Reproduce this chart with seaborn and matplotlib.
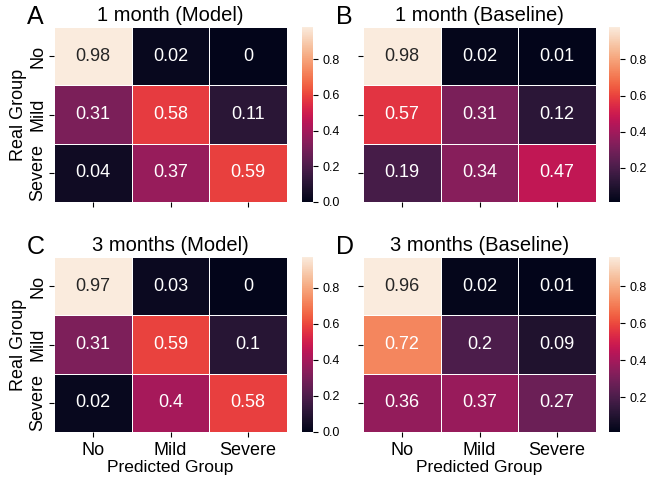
import numpy as np
import pandas as pd
import seaborn as sns
import matplotlib.pyplot as plt

groups = ['No', 'Mild', 'Severe']

m1_model = [[0.98, 0.02, 0.0],
            [0.31, 0.58, 0.11],
            [0.04, 0.37, 0.59]]
m1_base = [[0.98, 0.02, 0.01],
           [0.57, 0.31, 0.12],
           [0.19, 0.34, 0.47]]
m3_model = [[0.97, 0.03, 0.0],
            [0.31, 0.59, 0.1],
            [0.02, 0.4, 0.58]]
m3_base = [[0.96, 0.02, 0.01],
           [0.72, 0.2, 0.09],
           [0.36, 0.37, 0.27]]

titles = ['1 month (Model)', '1 month (Baseline)', '3 months (Model)', '3 months (Baseline)']
letters = ['A', 'B', 'C', 'D']
mats = [m1_model, m1_base, m3_model, m3_base]

plt.rcParams['font.family'] = ['Liberation Sans', 'DejaVu Sans']

fig = plt.figure(figsize=(6.6, 4.8), dpi=100)

# positions in pixels -> figure fraction
W, H = 660, 480
lefts = [54, 363]
cb_lefts = [302, 609]
tops = [27, 257]
hw, hh = 233, 175

for i in range(4):
    r, c = divmod(i, 2)
    ax = fig.add_axes([lefts[c] / W, 1 - (tops[r] + hh) / H, hw / W, hh / H])
    cax = fig.add_axes([cb_lefts[c] / W, 1 - (tops[r] + hh) / H, 11 / W, hh / H])
    df = pd.DataFrame(mats[i], index=groups, columns=groups)
    sns.heatmap(df, ax=ax, cbar_ax=cax, annot=True, linewidths=0.6, linecolor='white',
                annot_kws={'size': 13})
    ax.set_title(titles[i], fontsize=14.5, pad=4)
    ax.text(-0.115, 1.018, letters[i], transform=ax.transAxes, fontsize=18, va='baseline', ha='left')
    cax.tick_params(labelsize=9)
    ax.tick_params(labelsize=13)
    ax.tick_params(axis='y', pad=2)
    if r == 0:
        ax.set_xticklabels([])
    else:
        ax.set_xlabel('Predicted Group', fontsize=12.5, labelpad=1)
    if c == 1:
        ax.set_yticklabels([])
    else:
        ax.set_yticklabels(groups, rotation=90, va='center')
        ax.set_ylabel('Real Group', fontsize=13, labelpad=2)

plt.savefig('out.png', dpi=100)
